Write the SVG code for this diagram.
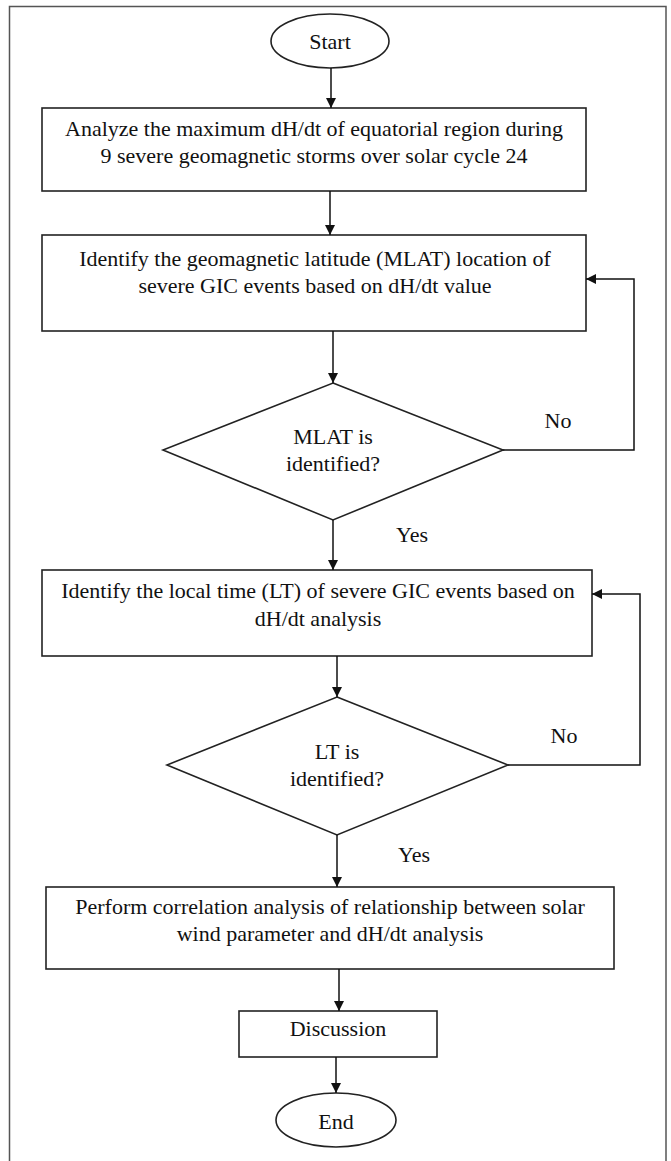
<svg xmlns="http://www.w3.org/2000/svg" width="671" height="1161" viewBox="0 0 671 1161">
<style>
.sh{fill:#fff;stroke:#222;stroke-width:1.6}
.t{font-family:"Liberation Serif","Times New Roman",serif;font-size:22px;fill:#111;text-anchor:middle}
.c{fill:none;stroke:#111;stroke-width:1.5}
</style>
<defs>
<marker id="ah" viewBox="0 0 10 10" refX="10" refY="5" markerWidth="10" markerHeight="10" markerUnits="userSpaceOnUse" orient="auto">
<path d="M0,0 L10,5 L0,10 z" fill="#111"/>
</marker>
</defs>
<rect x="0" y="0" width="671" height="1161" fill="#fff"/>
<rect x="9.5" y="6.5" width="656.5" height="1160" fill="none" stroke="#555" stroke-width="1.5"/>

<g id="start">
<ellipse class="sh" cx="330" cy="41" rx="59" ry="27"/>
<text class="t" x="330" y="49">Start</text>
</g>
<g id="analyze">
<rect class="sh" x="42" y="108" width="544" height="83"/>
<text class="t" x="314" y="136">Analyze the maximum dH/dt of equatorial region during</text>
<text class="t" x="314" y="163">9 severe geomagnetic storms over solar cycle 24</text>
</g>
<g id="identify-mlat">
<rect class="sh" x="42" y="235" width="544" height="96"/>
<text class="t" x="315" y="266">Identify the geomagnetic latitude (MLAT) location of</text>
<text class="t" x="315" y="293">severe GIC events based on dH/dt value</text>
</g>
<g id="mlat-decision">
<polygon class="sh" points="333,383 503,450 333,520 163,450"/>
<text class="t" x="333" y="444">MLAT is</text>
<text class="t" x="333" y="471">identified?</text>
</g>
<g id="identify-lt">
<rect class="sh" x="42" y="570" width="550" height="86"/>
<text class="t" x="318" y="598">Identify the local time (LT) of severe GIC events based on</text>
<text class="t" x="318" y="626">dH/dt analysis</text>
</g>
<g id="lt-decision">
<polygon class="sh" points="337,697 508,765 337,835 167,765"/>
<text class="t" x="337" y="759">LT is</text>
<text class="t" x="337" y="786">identified?</text>
</g>
<g id="correlation">
<rect class="sh" x="46" y="887" width="568" height="82"/>
<text class="t" x="330" y="914">Perform correlation analysis of relationship between solar</text>
<text class="t" x="330" y="941">wind parameter and dH/dt analysis</text>
</g>
<g id="discussion">
<rect class="sh" x="239" y="1011" width="198" height="46"/>
<text class="t" x="338" y="1036">Discussion</text>
</g>
<g id="end">
<ellipse class="sh" cx="336" cy="1120" rx="60" ry="27"/>
<text class="t" x="336" y="1129">End</text>
</g>

<g id="connectors">
<line class="c" x1="331" y1="68" x2="331" y2="108" marker-end="url(#ah)"/>
<line class="c" x1="330" y1="191" x2="330" y2="235" marker-end="url(#ah)"/>
<line class="c" x1="333" y1="331" x2="333" y2="383" marker-end="url(#ah)"/>
<line class="c" x1="333" y1="520" x2="333" y2="570" marker-end="url(#ah)"/>
<polyline class="c" points="503,450 634,450 634,279 586,279" marker-end="url(#ah)"/>
<line class="c" x1="337" y1="656" x2="337" y2="697" marker-end="url(#ah)"/>
<line class="c" x1="337" y1="835" x2="337" y2="887" marker-end="url(#ah)"/>
<polyline class="c" points="508,765 640,765 640,594 592,594" marker-end="url(#ah)"/>
<line class="c" x1="339" y1="969" x2="339" y2="1011" marker-end="url(#ah)"/>
<line class="c" x1="336" y1="1057" x2="336" y2="1093" marker-end="url(#ah)"/>
<text class="t" x="558" y="428">No</text>
<text class="t" x="412" y="542">Yes</text>
<text class="t" x="564" y="743">No</text>
<text class="t" x="414" y="862">Yes</text>
</g>
</svg>
